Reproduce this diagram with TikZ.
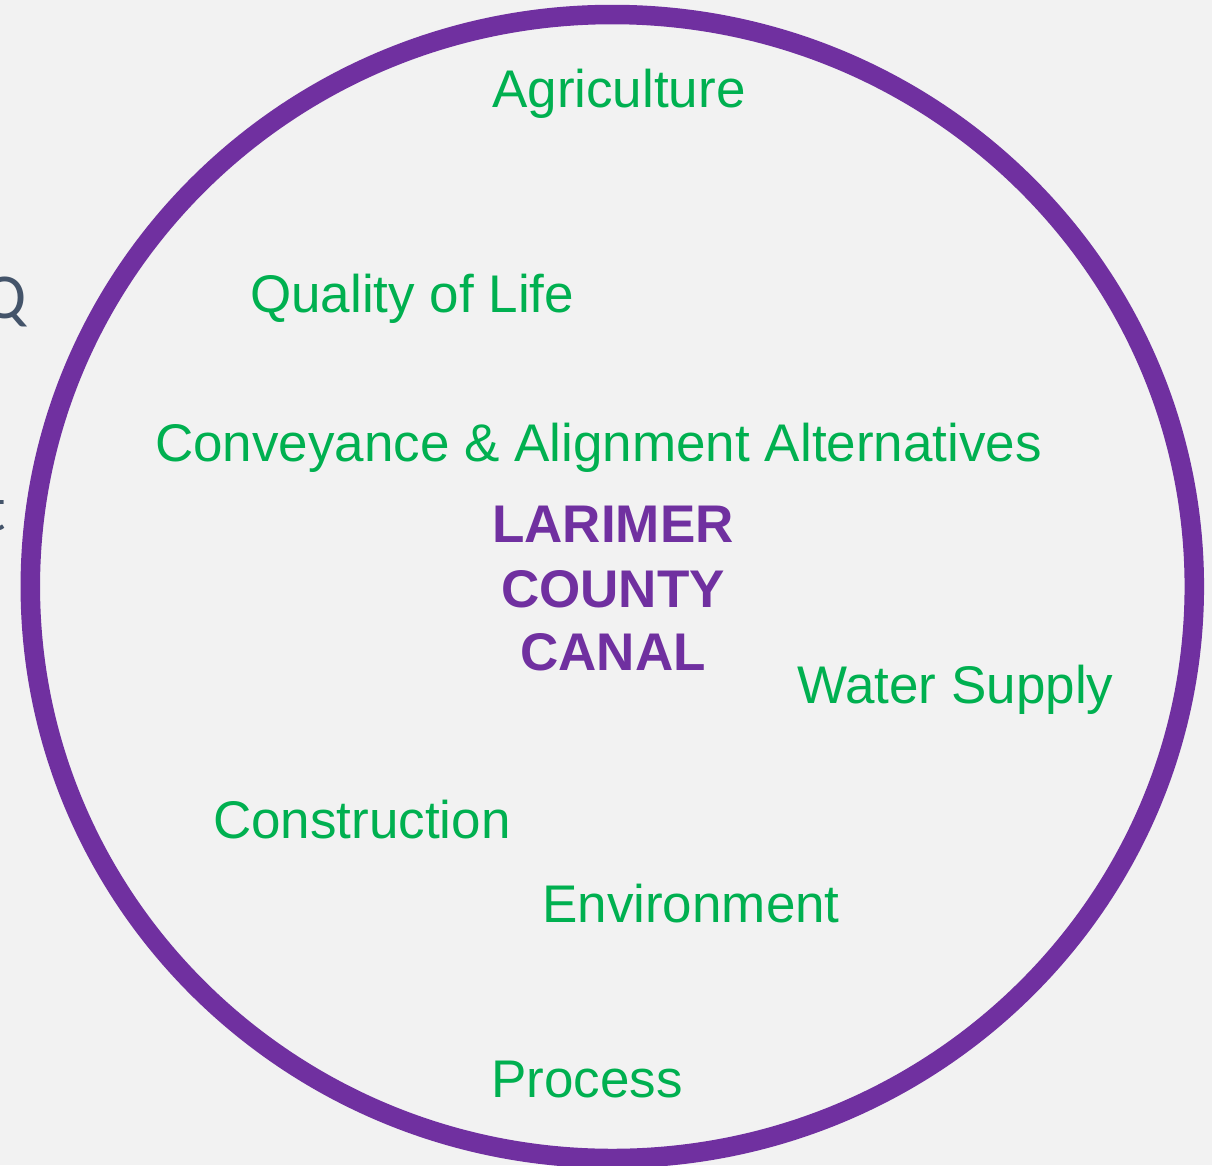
\documentclass[tikz,border=0pt]{standalone}
\usepackage{fontspec}
\setmainfont{Liberation Sans}
\newfontfamily\calib{Carlito}
\definecolor{bg}{HTML}{F2F2F2}
\definecolor{ring}{HTML}{7030A0}
\definecolor{grn}{HTML}{00B050}
\definecolor{slate}{HTML}{44546A}
\tikzset{
  topic/.style={text=grn, inner sep=0pt, anchor=base west, font=\fontsize{53}{64}\selectfont},
  title/.style={text=ring, inner sep=0pt, anchor=base, font=\fontsize{53}{64}\selectfont\bfseries},
  edge/.style={text=slate, inner sep=0pt, anchor=base east, font=\calib\fontsize{64}{76}\selectfont},
}
\begin{document}
\begin{tikzpicture}[x=1pt,y=-1pt]
\useasboundingbox (0,0) rectangle (1212,1165);
\fill[bg] (0,0) rectangle (1212,1165);
\begin{scope}
\clip (0,0) rectangle (1212,1165);
\node[edge] (q) at (27,318) {Q};
\node[edge] (t) at (6,530) {t};
\draw[ring, line width=19.5pt] (612.3,586.5) ellipse [x radius=582, y radius=572];
\end{scope}
\node[topic] (agri) at (492,107) {Agriculture};
\node[topic] (qol) at (250,312) {Quality of Life};
\node[topic] (conv) at (155,461) {Conveyance \& Alignment Alternatives};
\node[title] (l1) at (613,542) {LARIMER};
\node[title] (l2) at (613,607) {COUNTY};
\node[title] (l3) at (613,670) {CANAL};
\node[topic] (water) at (797,703) {Water Supply};
\node[topic] (constr) at (213,838) {Construction};
\node[topic] (env) at (542,922) {Environment};
\node[topic] (proc) at (491,1097) {Process};
\end{tikzpicture}
\end{document}
